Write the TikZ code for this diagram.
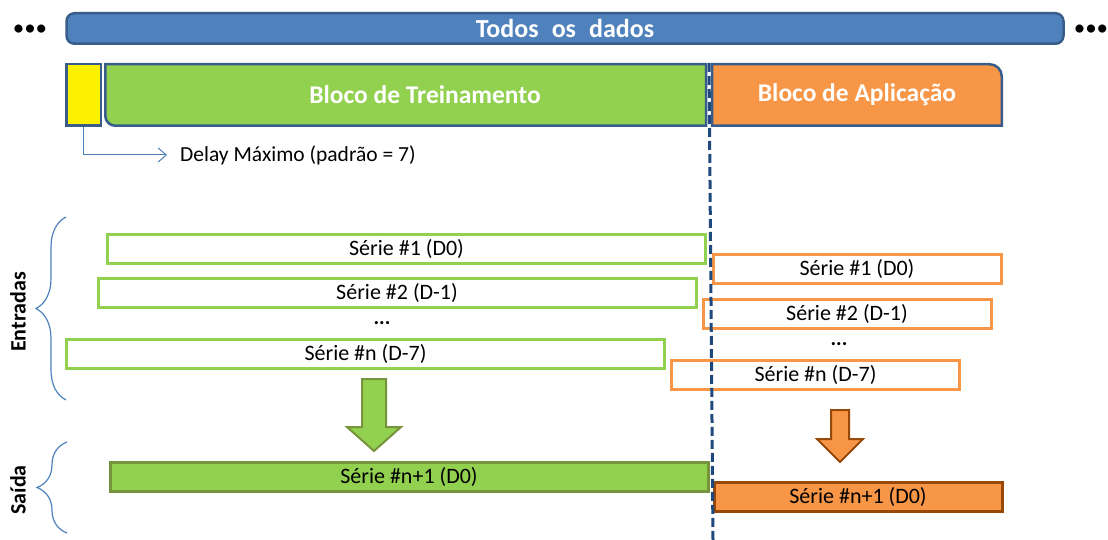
\documentclass[tikz,border=0pt]{standalone}
\usepackage{fontspec}
\setmainfont{Carlito}
\usetikzlibrary{arrows.meta, positioning, decorations.pathreplacing}
\definecolor{barblue}{HTML}{4F81BD}
\definecolor{edgeblue}{HTML}{385D8A}
\definecolor{navy}{HTML}{1F497D}
\definecolor{leaf}{HTML}{92D050}
\definecolor{olive}{HTML}{77933C}
\definecolor{tang}{HTML}{F79646}
\definecolor{rust}{HTML}{984807}
\tikzstyle{databar} = [rectangle, rounded corners=8pt, minimum width=997pt, minimum height=30.5pt, fill=barblue, draw=edgeblue, line width=2.5pt, text=white, font={\fontsize{26}{30}\selectfont\bfseries\spaceskip=0.5em\relax}]
\tikzstyle{delaybox} = [rectangle, minimum width=34.5pt, minimum height=61.5pt, fill=yellow, draw=edgeblue, line width=2.5pt]
\tikzstyle{block} = [draw=edgeblue, line width=2.5pt]
\tikzstyle{blocktext} = [text=white, font=\fontsize{25.5}{29}\selectfont\bfseries]
\tikzstyle{trainser} = [rectangle, minimum width=598pt, minimum height=29pt, inner sep=0pt, draw=leaf, line width=3pt, font=\fontsize{22}{26}\selectfont]
\tikzstyle{applyser} = [rectangle, minimum width=288pt, minimum height=29pt, inner sep=0pt, draw=tang, line width=3pt, font=\fontsize{22}{26}\selectfont]
\tikzstyle{trainout} = [trainser, fill=leaf, draw=olive]
\tikzstyle{applyout} = [applyser, fill=tang, draw=rust]
\tikzstyle{dots} = [inner sep=0pt, font=\fontsize{21}{25}\selectfont\bfseries]
\tikzstyle{more} = [inner sep=0pt, font=\fontsize{23}{25}\selectfont]
\tikzstyle{side} = [rotate=90, font=\fontsize{22}{26}\selectfont\bfseries]
\tikzstyle{brace} = [draw=barblue, line width=1.2pt, decorate, decoration={brace, amplitude=30pt}]
\tikzstyle{bigarrow} = [line width=2pt, line join=miter]
\tikzstyle{arrow} = [draw=barblue, line width=1pt, -{Straight Barb[length=8pt, width=14pt]}]

\begin{document}
\begin{tikzpicture}[x=1pt, y=-1pt]
\useasboundingbox (0,0) rectangle (1108,540);

\node (all) [databar] at (565,28.5) {Todos os dados};
\node (lmore) [more] at (30,30) {•••};
\node (rmore) [more] at (1091,30) {•••};

\node (maxdelay) [delaybox] at (83.5,95) {};

% blocos
\draw [block, fill=leaf] (105.25,64.25) -- (706,64.25) -- (706,125.75) -- (115.25,125.75) .. controls (109.75,125.75) and (105.25,121.25) .. (105.25,115.75) -- cycle;
\node (train) [blocktext] at (425,95) {Bloco de Treinamento};
\draw [block, fill=tang] (712,64.25) -- (989.75,64.25) .. controls (996.35,64.25) and (1001.75,69.65) .. (1001.75,76.25) -- (1001.75,125.75) -- (712,125.75) -- cycle;
\node (apply) [blocktext] at (857,95) {Bloco de Aplicação};

\node (delay) [anchor=west, inner sep=0pt, font=\fontsize{21.5}{25}\selectfont] at (180,155) {Delay Máximo (padrão = 7)};
\draw [arrow, shorten >=13pt] (maxdelay.south) |- (delay.west);

% treinamento
\node (tr1) [trainser] at (406.5,248.5) {Série \#1 (D0)};
\node (tr2) [trainser] at (397,293) {Série \#2 (D-1)};
\node (trdots) [dots] at (382,323) {...};
\node (trn) [trainser] at (365.5,353.5) {Série \#n (D-7)};
\node (trout) [trainout] at (409,477) {Série \#n+1 (D0)};

% aplicacao
\node (ap1) [applyser] at (857,269) {Série \#1 (D0)};
\node (ap2) [applyser] at (847,314) {Série \#2 (D-1)};
\node (apdots) [dots] at (839,344) {...};
\node (apn) [applyser] at (815.5,374.5) {Série \#n (D-7)};
\node (apout) [applyout] at (858,497) {Série \#n+1 (D0)};

\draw [bigarrow, fill=leaf, draw=olive] (362,379) -- (386,379) -- (386,427) -- (401,427) -- (374,451) -- (347,427) -- (362,427) -- cycle;
\draw [bigarrow, fill=tang, draw=rust] (831,410) -- (849,410) -- (849,439) -- (863,439) -- (840,462) -- (817,439) -- (831,439) -- cycle;

\node (inputs) [side] at (18,312) {Entradas};
\node (output) [side] at (18,490) {Saída};
\draw [brace] (66,400) -- (66,217);
\draw [brace] (67,533) -- (67,442);

\draw [navy, line width=3pt, dash pattern=on 9pt off 4pt] (709,63) -- (713,540);
\end{tikzpicture}
\end{document}
